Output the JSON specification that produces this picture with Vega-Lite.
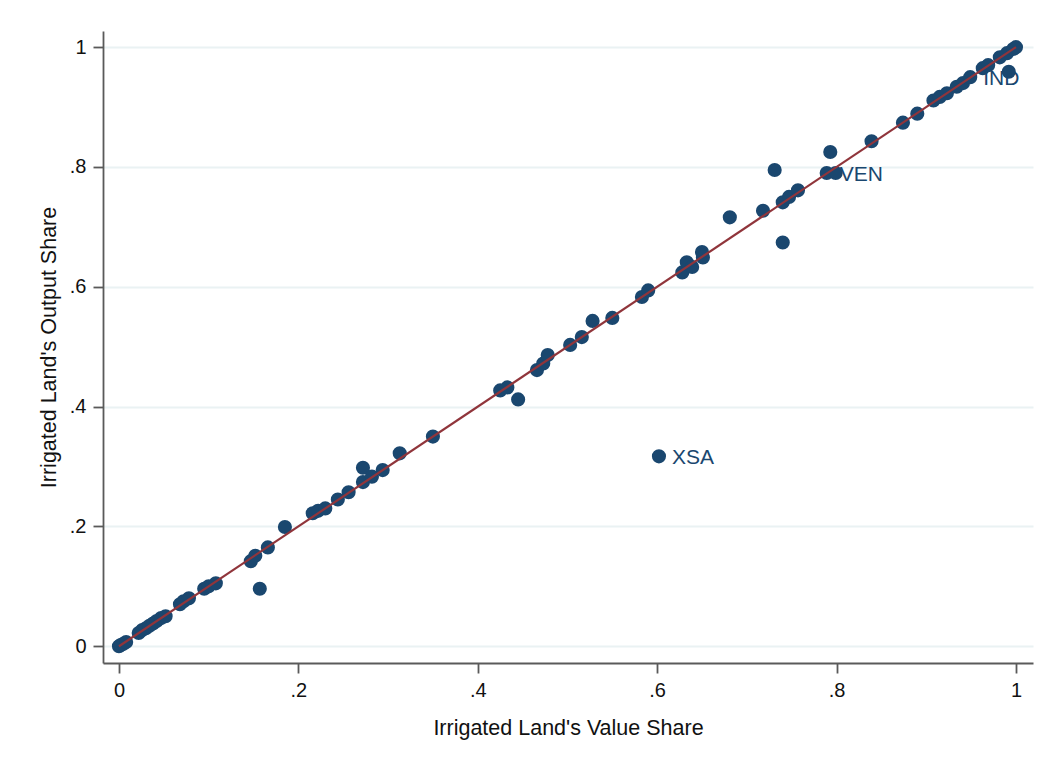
{
  "$schema": "https://vega.github.io/schema/vega-lite/v6.json",
  "autosize": "none",
  "width": 930,
  "height": 632,
  "padding": {"left": 103, "top": 31, "right": 14, "bottom": 109},
  "background": "white",
  "config": {
    "view": {"stroke": null},
    "font": "Liberation Sans"
  },
  "datasets": {
    "pts": [
      {"x": 0.000, "y": 0.000, "label": ""},
      {"x": 0.002, "y": 0.002, "label": ""},
      {"x": 0.005, "y": 0.004, "label": ""},
      {"x": 0.008, "y": 0.007, "label": ""},
      {"x": 0.022, "y": 0.022, "label": ""},
      {"x": 0.026, "y": 0.027, "label": ""},
      {"x": 0.030, "y": 0.030, "label": ""},
      {"x": 0.034, "y": 0.034, "label": ""},
      {"x": 0.038, "y": 0.038, "label": ""},
      {"x": 0.042, "y": 0.042, "label": ""},
      {"x": 0.047, "y": 0.047, "label": ""},
      {"x": 0.052, "y": 0.050, "label": ""},
      {"x": 0.068, "y": 0.070, "label": ""},
      {"x": 0.072, "y": 0.075, "label": ""},
      {"x": 0.078, "y": 0.080, "label": ""},
      {"x": 0.095, "y": 0.096, "label": ""},
      {"x": 0.100, "y": 0.100, "label": ""},
      {"x": 0.108, "y": 0.105, "label": ""},
      {"x": 0.147, "y": 0.142, "label": ""},
      {"x": 0.152, "y": 0.151, "label": ""},
      {"x": 0.166, "y": 0.165, "label": ""},
      {"x": 0.157, "y": 0.096, "label": ""},
      {"x": 0.185, "y": 0.199, "label": ""},
      {"x": 0.216, "y": 0.222, "label": ""},
      {"x": 0.222, "y": 0.226, "label": ""},
      {"x": 0.230, "y": 0.230, "label": ""},
      {"x": 0.244, "y": 0.245, "label": ""},
      {"x": 0.256, "y": 0.257, "label": ""},
      {"x": 0.272, "y": 0.298, "label": ""},
      {"x": 0.272, "y": 0.274, "label": ""},
      {"x": 0.282, "y": 0.283, "label": ""},
      {"x": 0.294, "y": 0.294, "label": ""},
      {"x": 0.313, "y": 0.322, "label": ""},
      {"x": 0.350, "y": 0.350, "label": ""},
      {"x": 0.425, "y": 0.427, "label": ""},
      {"x": 0.433, "y": 0.432, "label": ""},
      {"x": 0.445, "y": 0.412, "label": ""},
      {"x": 0.466, "y": 0.461, "label": ""},
      {"x": 0.473, "y": 0.472, "label": ""},
      {"x": 0.478, "y": 0.486, "label": ""},
      {"x": 0.503, "y": 0.503, "label": ""},
      {"x": 0.516, "y": 0.516, "label": ""},
      {"x": 0.528, "y": 0.543, "label": ""},
      {"x": 0.550, "y": 0.548, "label": ""},
      {"x": 0.583, "y": 0.583, "label": ""},
      {"x": 0.590, "y": 0.594, "label": ""},
      {"x": 0.602, "y": 0.317, "label": "XSA"},
      {"x": 0.628, "y": 0.624, "label": ""},
      {"x": 0.633, "y": 0.641, "label": ""},
      {"x": 0.639, "y": 0.633, "label": ""},
      {"x": 0.650, "y": 0.658, "label": ""},
      {"x": 0.651, "y": 0.649, "label": ""},
      {"x": 0.681, "y": 0.716, "label": ""},
      {"x": 0.718, "y": 0.727, "label": ""},
      {"x": 0.731, "y": 0.795, "label": ""},
      {"x": 0.740, "y": 0.674, "label": ""},
      {"x": 0.740, "y": 0.741, "label": ""},
      {"x": 0.747, "y": 0.750, "label": ""},
      {"x": 0.757, "y": 0.761, "label": ""},
      {"x": 0.789, "y": 0.790, "label": "VEN"},
      {"x": 0.793, "y": 0.825, "label": ""},
      {"x": 0.799, "y": 0.790, "label": ""},
      {"x": 0.839, "y": 0.843, "label": ""},
      {"x": 0.874, "y": 0.874, "label": ""},
      {"x": 0.890, "y": 0.889, "label": ""},
      {"x": 0.908, "y": 0.911, "label": ""},
      {"x": 0.915, "y": 0.917, "label": ""},
      {"x": 0.923, "y": 0.923, "label": ""},
      {"x": 0.934, "y": 0.934, "label": ""},
      {"x": 0.941, "y": 0.940, "label": ""},
      {"x": 0.949, "y": 0.950, "label": "IND"},
      {"x": 0.963, "y": 0.965, "label": ""},
      {"x": 0.969, "y": 0.970, "label": ""},
      {"x": 0.982, "y": 0.983, "label": ""},
      {"x": 0.990, "y": 0.990, "label": ""},
      {"x": 0.997, "y": 0.997, "label": ""},
      {"x": 1.000, "y": 1.000, "label": ""},
      {"x": 0.992, "y": 0.959, "label": ""}
    ],
    "fit": [
      {"x": 0, "y": 0},
      {"x": 1, "y": 1}
    ]
  },
  "encoding": {
    "x": {
      "field": "x",
      "type": "quantitative",
      "scale": {"domain": [-0.0178, 1.019], "nice": false, "zero": false},
      "axis": {
        "title": "Irrigated Land's Value Share",
        "values": [0, 0.2, 0.4, 0.6, 0.8, 1],
        "labelExpr": "datum.value == 0 ? '0' : datum.value == 1 ? '1' : replace(format(datum.value, '.1f'), '0.', '.')",
        "grid": false,
        "domainColor": "#5a5a5a",
        "domainWidth": 1.8,
        "tickColor": "#5a5a5a",
        "tickWidth": 1.8,
        "tickSize": 10,
        "labelFontSize": 20,
        "labelColor": "#111111",
        "labelPadding": 7,
        "titleFontSize": 21.5,
        "titleFontWeight": "normal",
        "titleColor": "#111111",
        "titlePadding": 17
      }
    },
    "y": {
      "field": "y",
      "type": "quantitative",
      "scale": {"domain": [-0.028, 1.027], "nice": false, "zero": false},
      "axis": {
        "title": "Irrigated Land's Output Share",
        "values": [0, 0.2, 0.4, 0.6, 0.8, 1],
        "labelExpr": "datum.value == 0 ? '0' : datum.value == 1 ? '1' : replace(format(datum.value, '.1f'), '0.', '.')",
        "grid": true,
        "gridColor": "#eaf2f3",
        "gridWidth": 1.8,
        "domainColor": "#5a5a5a",
        "domainWidth": 1.8,
        "tickColor": "#5a5a5a",
        "tickWidth": 1.8,
        "tickSize": 10,
        "labelFontSize": 20,
        "labelColor": "#111111",
        "labelPadding": 7,
        "titleFontSize": 21.5,
        "titleFontWeight": "normal",
        "titleColor": "#111111",
        "titlePadding": 9
      }
    }
  },
  "layer": [
    {
      "data": {"name": "pts"},
      "mark": {"type": "circle", "size": 200, "color": "#1a476f", "opacity": 1}
    },
    {
      "data": {"name": "fit"},
      "mark": {"type": "line", "color": "#90353b", "strokeWidth": 2.2}
    },
    {
      "data": {"name": "pts"},
      "transform": [{"filter": "datum.label != ''"}],
      "mark": {"type": "text", "align": "left", "baseline": "middle", "dx": 13, "dy": 2, "fontSize": 21, "color": "#1a476f"},
      "encoding": {"text": {"field": "label"}}
    }
  ]
}
